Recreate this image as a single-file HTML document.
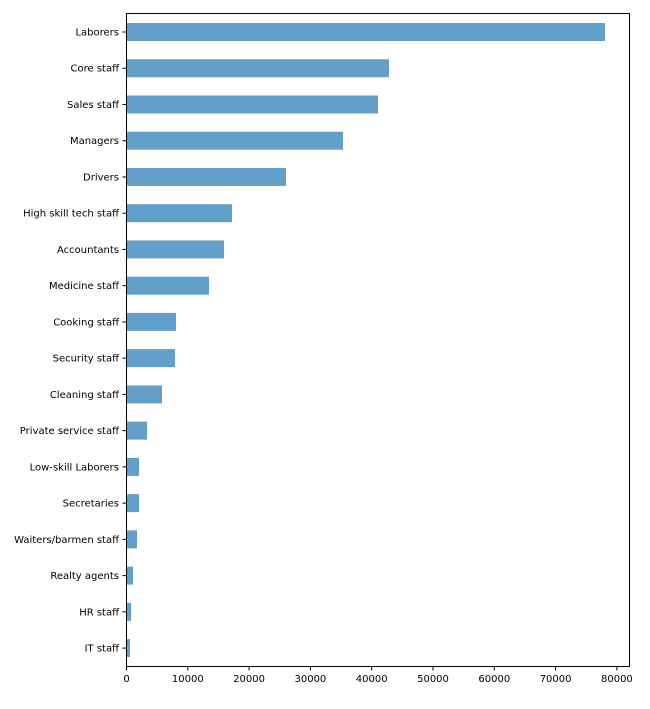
<!DOCTYPE html>
<html><head><style>body{margin:0;background:#fff}svg{display:block}text{font-family:"DejaVu Sans","Liberation Sans",sans-serif;font-size:10px;fill:#000}</style></head>
<body>
<svg width="650" height="709" xmlns="http://www.w3.org/2000/svg">
<g id="bars" fill="#62a0ca"></g>
<g id="lab"></g>
<rect x="126.5" y="13.5" width="503" height="653" fill="none" stroke="#000" stroke-width="1"/>
<g id="xt"></g>
</svg>
<script>
const names=["Laborers","Core staff","Sales staff","Managers","Drivers","High skill tech staff","Accountants","Medicine staff","Cooking staff","Security staff","Cleaning staff","Private service staff","Low-skill Laborers","Secretaries","Waiters/barmen staff","Realty agents","HR staff","IT staff"];
const ends=[605,389,378,343,286,232,224,209,176,175,162,147,139,139,137,133,131,130];
const ns="http://www.w3.org/2000/svg";
const B=document.getElementById("bars"),L=document.getElementById("lab"),X=document.getElementById("xt");
function el(t,a,p,txt){const e=document.createElementNS(ns,t);for(const k in a)e.setAttribute(k,a[k]);if(txt)e.textContent=txt;p.appendChild(e);}
names.forEach((n,i)=>{const c=32+i*36.24;
el("rect",{x:126.5,y:c-9,width:ends[i]-126.5,height:18},B);
el("line",{x1:122.5,x2:126.5,y1:c,y2:c,stroke:"#000"},L);
el("text",{x:119,y:c+3.5,"text-anchor":"end"},L,n);});
for(let k=0;k<=8;k++){const x=126.5+k*61.3;
el("line",{x1:x,x2:x,y1:666.5,y2:670.5,stroke:"#000"},X);
el("text",{x:x,y:682,"text-anchor":"middle"},X,String(k*10000));}
</script>
</body></html>
